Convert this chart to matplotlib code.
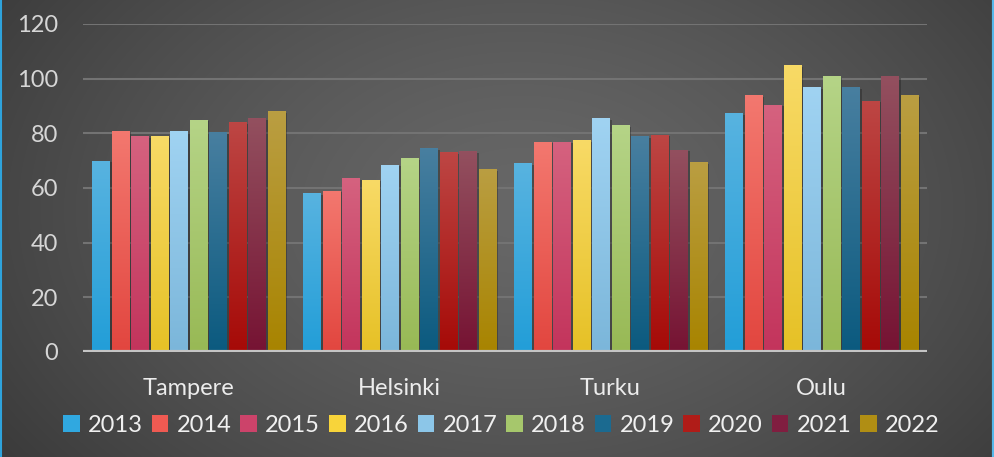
import numpy as np
import matplotlib
matplotlib.use("Agg")
import matplotlib.pyplot as plt
import matplotlib.patheffects as pe
from matplotlib.colors import to_rgb
from matplotlib.patches import Patch

# data
cities = ["Tampere", "Helsinki", "Turku", "Oulu"]
years = ["2013", "2014", "2015", "2016", "2017", "2018", "2019", "2020", "2021", "2022"]
v2013 = [70, 58, 69, 87.5]
v2014 = [81, 59, 77, 94]
v2015 = [79, 63.5, 77, 90.5]
v2016 = [79, 63, 77.5, 105]
v2017 = [81, 68.5, 85.5, 97]
v2018 = [85, 71, 83, 101]
v2019 = [80.5, 74.5, 79, 97]
v2020 = [84, 73, 79.5, 92]
v2021 = [85.5, 73.5, 74, 101]
v2022 = [88, 67, 69.5, 94]
series = [v2013, v2014, v2015, v2016, v2017, v2018, v2019, v2020, v2021, v2022]

top_colors = ["#58b3e0", "#f3786f", "#d5627f", "#f8da66", "#a0d3f2",
              "#b5d487", "#487fa0", "#bd4644", "#93505f", "#ba9e42"]
bot_colors = ["#229ed8", "#e2463f", "#c3345c", "#e6c126", "#7bb6da",
              "#98b955", "#0b5a7f", "#a60a07", "#761333", "#a88400"]
mid_colors = ["#30a8e0", "#ef5a52", "#cc436a", "#f8d43a", "#8cc6e8",
              "#a6c76c", "#1b6a90", "#b01c18", "#801e40", "#b08e14"]

fig = plt.figure(figsize=(9.95, 4.57), dpi=100)

# background radial gradient
bg = fig.add_axes([0, 0, 1, 1], zorder=-10)
yy, xx = np.mgrid[0:457, 0:995]
r = np.sqrt(((xx - 520) / 620.0) ** 2 + ((yy - 210) / 420.0) ** 2)
r = np.clip(r, 0, 1)
c_in = np.array(to_rgb("#676767"))
c_out = np.array(to_rgb("#3c3c3c"))
img = c_in[None, None, :] * (1 - r[..., None] ** 1.4) + c_out[None, None, :] * (r[..., None] ** 1.4)
bg.imshow(img, extent=(0, 995, 457, 0), aspect="auto")
bg.plot([0.5, 0.5], [0, 457], color="#2ea3dc", lw=1.5)
bg.plot([993.5, 993.5], [0, 457], color="#56b8ea", lw=3)
bg.set_xlim(0, 995)
bg.set_ylim(457, 0)
bg.axis("off")

ax = fig.add_axes([83 / 995, 105 / 457, 844 / 995, 328 / 457])
ax.set_facecolor("none")

n = len(series)
slot = 0.0925
width = 0.081
x = np.arange(len(cities))

for i, vals in enumerate(series):
    pos = x - slot * (n - 1) / 2 + i * slot
    bars = ax.bar(pos, vals, width=width, color=mid_colors[i], zorder=3,
                  path_effects=[pe.SimplePatchShadow(offset=(1.8, -1.2), alpha=0.35, shadow_rgbFace="#1a1a1a"),
                                pe.Normal()])
    grad = np.linspace(0, 1, 100)[:, None]
    ct = np.array(to_rgb(top_colors[i]))
    cb = np.array(to_rgb(bot_colors[i]))
    gimg = ct[None, None, :] * (1 - grad[..., None]) + cb[None, None, :] * grad[..., None]
    for b in bars:
        im = ax.imshow(gimg, extent=(b.get_x(), b.get_x() + b.get_width(), 0, b.get_height()),
                       aspect="auto", zorder=4, interpolation="bilinear")
        im.set_clip_path(b)

ax.set_xlim(-0.5, 3.5)
ax.set_ylim(0, 120)
ax.set_yticks(range(0, 121, 20))
ax.yaxis.grid(True, color="#737373", lw=1.5, zorder=0)
ax.set_axisbelow(True)
for s in ax.spines.values():
    s.set_visible(False)
ax.axhline(0, color="#c4c4c4", lw=3, zorder=5)

font = "Lato"
ax.tick_params(axis="y", length=0, pad=18, labelsize=17, labelcolor="#d6d6d6")
ax.tick_params(axis="x", length=0, pad=19, labelsize=17, labelcolor="#ececec")
ax.set_xticks(x)
ax.set_xticklabels(cities, fontfamily=font)
for t in ax.get_yticklabels():
    t.set_fontfamily(font)

handles = [Patch(facecolor=mid_colors[i], label=years[i]) for i in range(n)]
fig.legend(handles=handles, loc="center", bbox_to_anchor=(0.504, 0.07), ncol=n,
           frameon=False, handlelength=0.7, handleheight=0.7, handletextpad=0.35,
           columnspacing=0.38, prop={"family": font, "size": 17}, labelcolor="#f0f0f0")

fig.savefig("out.png", dpi=100)
